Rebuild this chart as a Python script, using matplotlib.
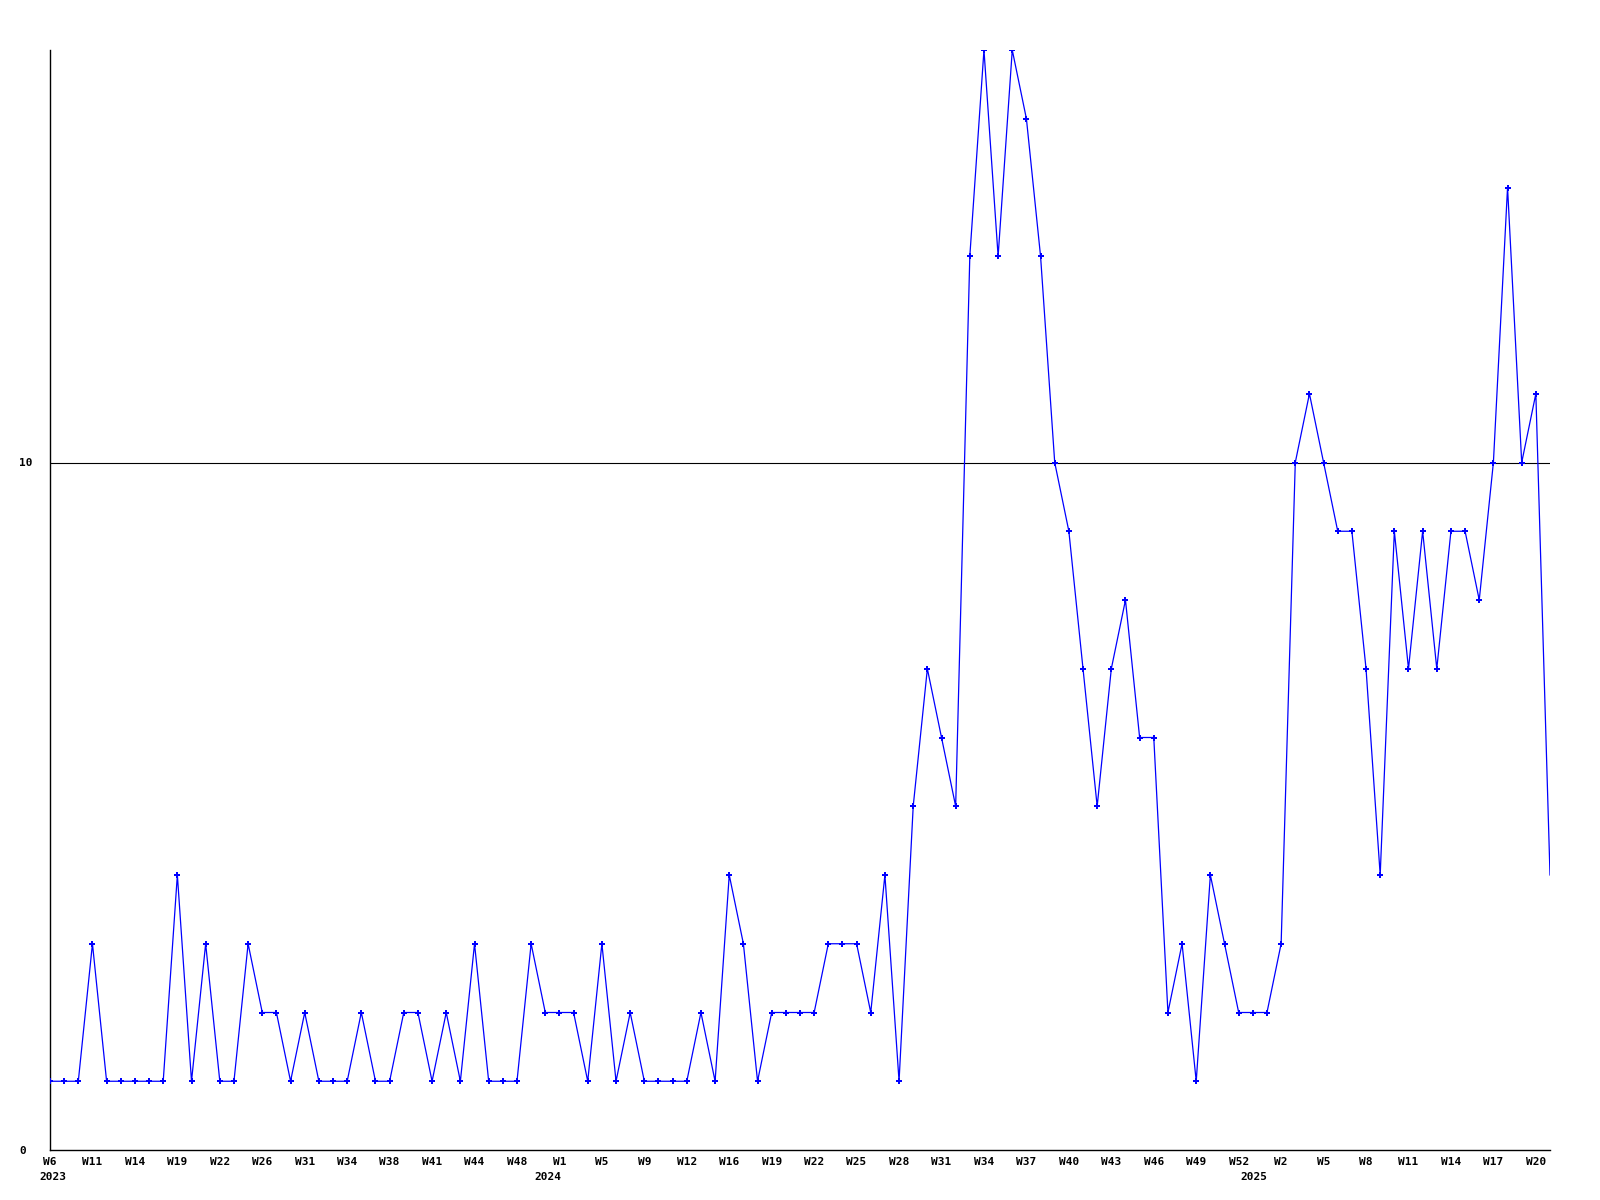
import matplotlib
matplotlib.use('Agg')
import matplotlib.pyplot as plt
import numpy as np

# weekly counts (one value per sample)
values = [
    1, 1, 1, 3, 1, 1, 1, 1, 1, 4,
    1, 3, 1, 1, 3, 2, 2, 1, 2, 1,
    1, 1, 2, 1, 1, 2, 2, 1, 2, 1,
    3, 1, 1, 1, 3, 2, 2, 2, 1, 3,
    1, 2, 1, 1, 1, 1, 2, 1, 4, 3,
    1, 2, 2, 2, 2, 3, 3, 3, 2, 4,
    1, 5, 7, 6, 5, 13, 16, 13, 16, 15,
    13, 10, 9, 7, 5, 7, 8, 6, 6, 2,
    3, 1, 4, 3, 2, 2, 2, 3, 10, 11,
    10, 9, 9, 7, 4, 9, 7, 9, 7, 9,
    9, 8, 10, 14, 10, 11, 4,
]

# tick labels, one every third sample
week_labels = [
    'W6', 'W11', 'W14', 'W19', 'W22', 'W26', 'W31', 'W34', 'W38', 'W41', 'W44', 'W48',
    'W1', 'W5', 'W9', 'W12', 'W16', 'W19', 'W22', 'W25', 'W28', 'W31', 'W34', 'W37',
    'W40', 'W43', 'W46', 'W49', 'W52',
    'W2', 'W5', 'W8', 'W11', 'W14', 'W17', 'W20',
]
years = ['2023', '2024', '2025']
year_pos = [0.2, 35.2, 85.1]   # sample index where each year starts

x = np.arange(len(values))
tick_pos = np.arange(0, len(week_labels) * 3, 3)

mono = {'family': 'DejaVu Sans Mono', 'weight': 'bold', 'size': 8}

fig = plt.figure(figsize=(16, 12), dpi=100)
ax = fig.add_axes([50 / 1600, 50 / 1200, 1500 / 1600, 1100 / 1200])

ax.axhline(10, color='black', linewidth=0.8, zorder=1)
ax.plot(x, values, color='#0000ff', linewidth=0.9, zorder=2)
ax.plot(x[:-1], values[:-1], linestyle='none', marker='P', markersize=4,
        color='#0000ff', markeredgewidth=0, zorder=3)

ax.set_xlim(0, len(values) - 1)
ax.set_ylim(0, 16)

ax.set_xticks(tick_pos)
ax.set_xticklabels(week_labels, fontdict=mono)
ax.set_yticks([0, 10])
ax.set_yticklabels(['0', '10'], fontdict=mono)
for lbl in ax.get_yticklabels():
    lbl.set_horizontalalignment('left')
ax.tick_params(axis='x', length=0, pad=5)
ax.tick_params(axis='y', length=0, pad=22)

for yr, pos in zip(years, year_pos):
    ax.annotate(yr, xy=(pos, 0), xycoords=('data', 'axes fraction'),
                xytext=(0, -16), textcoords='offset points',
                ha='center', va='top', **mono)

for side in ['top', 'right']:
    ax.spines[side].set_visible(False)
for side in ['left', 'bottom']:
    ax.spines[side].set_color('black')
    ax.spines[side].set_linewidth(1.0)

fig.savefig('out.png', dpi=100)
